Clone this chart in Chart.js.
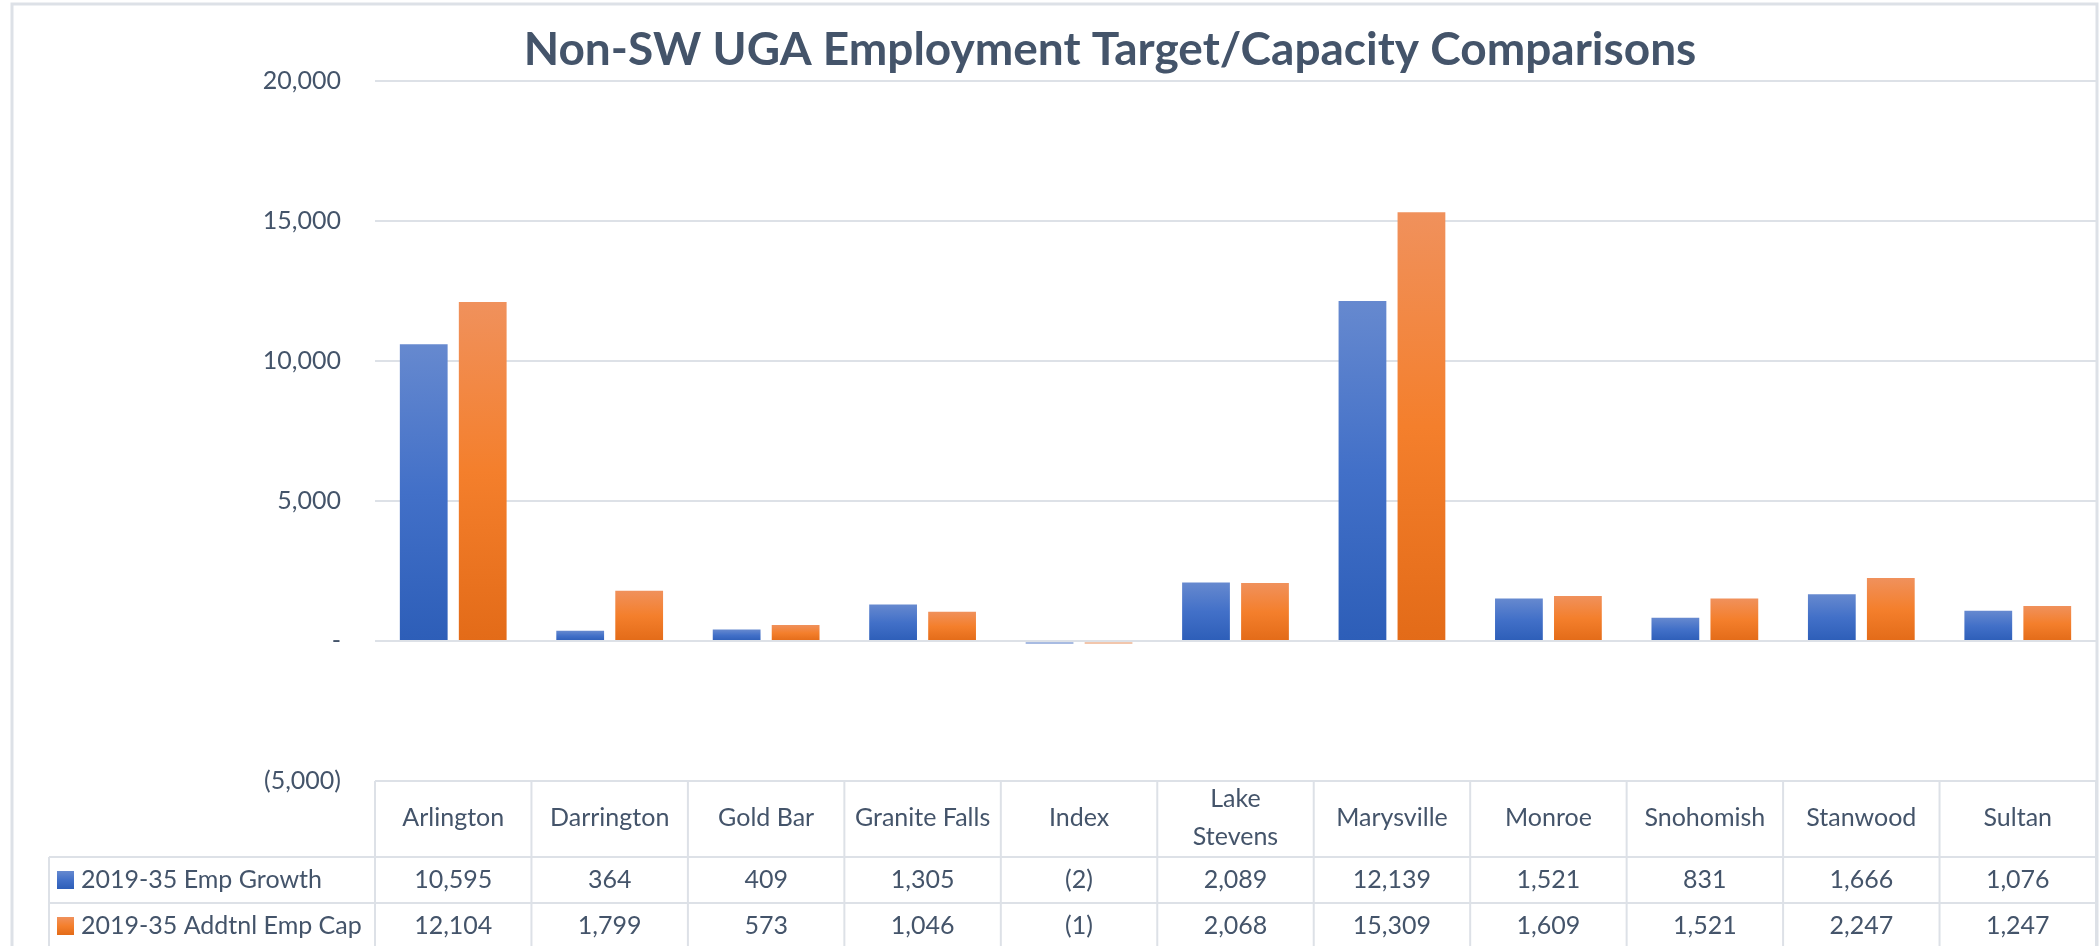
<!DOCTYPE html>
<html>
<head>
<meta charset="utf-8">
<script src="https://cdn.jsdelivr.net/npm/chart.js@4"></script>
<style>
html, body { margin: 0; padding: 0; background: #fff; }
#wrap { position: relative; width: 2100px; height: 946px; }
</style>
</head>
<body>
<div id="wrap"><canvas id="empChart"></canvas></div>
<script>
// categories along the x-axis (Lake Stevens wraps onto two lines)
var cities = ["Arlington","Darrington","Gold Bar","Granite Falls","Index",["Lake","Stevens"],"Marysville","Monroe","Snohomish","Stanwood","Sultan"];
// the two series, also shown in the table under the chart
var empGrowth = [10595,364,409,1305,-2,2089,12139,1521,831,1666,1076];
var addtnlEmpCap = [12104,1799,573,1046,-1,2068,15309,1609,1521,2247,1247];
var seriesNames = ["2019-35 Emp Growth","2019-35 Addtnl Emp Cap"];
var yTicks = [-5000,0,5000,10000,15000,20000];
var titleText = "Non-SW UGA Employment Target/Capacity Comparisons";

var textColor = "#44546A";
var lineColor = "#DDE1E7";
var fontFamily = "Lato, 'Open Sans', sans-serif";
var blueStops = ["#6689CF","#4270C8","#2D5EB8"];
var orangeStops = ["#F0915C","#F47F2C","#E36B18"];

// accounting style numbers: 0 -> "-", negatives in brackets
function fmt(v) {
  if (v === 0) return "-";
  var s = Math.abs(v).toLocaleString("en-US");
  return v < 0 ? "(" + s + ")" : s;
}

// each bar gets its own light-to-dark gradient
function barFill(stops, faint) {
  return function(ctx) {
    var chart = ctx.chart;
    if (!chart.chartArea || ctx.raw == null) return stops[1];
    if (ctx.raw < 0) return faint;
    var y = chart.scales.y;
    var top = y.getPixelForValue(ctx.raw), base = y.getPixelForValue(0);
    if (!isFinite(top) || base - top < 1) return stops[1];
    var g = chart.ctx.createLinearGradient(0, top, 0, base);
    g.addColorStop(0, stops[0]);
    g.addColorStop(0.5, stops[1]);
    g.addColorStop(1, stops[2]);
    return g;
  };
}

// outer frame and title
var framePlugin = {
  id: "frame",
  beforeDraw: function(chart) {
    var c = chart.ctx;
    c.save();
    c.strokeStyle = lineColor;
    c.lineWidth = 3;
    c.beginPath();
    c.moveTo(12, chart.height);
    c.lineTo(12, 4);
    c.lineTo(2097, 4);
    c.lineTo(2097, chart.height);
    c.stroke();
    c.restore();
  },
  afterDraw: function(chart) {
    var c = chart.ctx;
    c.save();
    c.fillStyle = textColor;
    c.font = "bold 46px " + fontFamily;
    c.textAlign = "center";
    c.textBaseline = "middle";
    c.fillText(titleText, 1110, 50);
    c.restore();
  }
};

// data table under the x-axis labels
var tablePlugin = {
  id: "dataTable",
  afterDraw: function(chart) {
    var c = chart.ctx, x = chart.scales.x, area = chart.chartArea;
    var step = x.getPixelForValue(1) - x.getPixelForValue(0);
    var first = x.getPixelForValue(0) - step / 2;
    var rowTops = [857, 903];
    var rowH = 46;
    var tableLeft = 49;
    var bottom = chart.height;
    c.save();
    c.strokeStyle = lineColor;
    c.lineWidth = 2;
    c.beginPath();
    rowTops.forEach(function(t) {
      c.moveTo(tableLeft, t);
      c.lineTo(area.right, t);
    });
    c.moveTo(tableLeft, rowTops[0]);
    c.lineTo(tableLeft, bottom);
    for (var i = 0; i <= cities.length; i++) {
      var xb = first + i * step;
      c.moveTo(xb, area.bottom);
      c.lineTo(xb, bottom);
    }
    c.stroke();

    c.font = "25px " + fontFamily;
    c.textBaseline = "middle";
    var stops = [blueStops, orangeStops];
    chart.data.datasets.forEach(function(ds, r) {
      var mid = rowTops[r] + rowH / 2;
      var g = c.createLinearGradient(0, mid - 9, 0, mid + 9);
      g.addColorStop(0, stops[r][0]);
      g.addColorStop(0.5, stops[r][1]);
      g.addColorStop(1, stops[r][2]);
      c.fillStyle = g;
      c.fillRect(57, mid - 9, 17, 18);
      c.fillStyle = textColor;
      c.textAlign = "left";
      c.fillText(ds.label, 81, mid);
      c.textAlign = "center";
      ds.data.forEach(function(v, i) {
        c.fillText(fmt(v), x.getPixelForValue(i), mid);
      });
    });
    c.restore();
  }
};

new Chart(document.getElementById("empChart"), {
  type: "bar",
  data: {
    labels: cities,
    datasets: [
      {
        label: seriesNames[0],
        data: empGrowth,
        backgroundColor: barFill(blueStops, "#A8BBE2"),
        barPercentage: 0.81,
        categoryPercentage: 0.754,
        minBarLength: 3
      },
      {
        label: seriesNames[1],
        data: addtnlEmpCap,
        backgroundColor: barFill(orangeStops, "#F2C6AC"),
        barPercentage: 0.81,
        categoryPercentage: 0.754,
        minBarLength: 3
      }
    ]
  },
  options: {
    responsive: true,
    maintainAspectRatio: false,
    animation: false,
    layout: { padding: { top: 81, right: 4, left: 0, bottom: 0 } },
    plugins: {
      legend: { display: false },
      title: { display: false },
      tooltip: { enabled: false }
    },
    scales: {
      x: {
        grid: { display: false },
        border: { display: false },
        ticks: {
          color: textColor,
          font: { family: fontFamily, size: 25, lineHeight: 1.5 },
          crossAlign: "center",
          padding: 10,
          maxRotation: 0,
          autoSkip: false
        },
        afterFit: function(s) { s.height = 165; }
      },
      y: {
        min: -5000,
        max: 20000,
        afterBuildTicks: function(s) {
          s.ticks = yTicks.map(function(v) { return { value: v }; });
        },
        grid: { color: lineColor, lineWidth: 2, drawTicks: false },
        border: { display: false },
        ticks: {
          color: textColor,
          font: { family: fontFamily, size: 25 },
          padding: 34,
          callback: function(v) { return fmt(v); }
        },
        afterFit: function(s) { s.width = 375; }
      }
    }
  },
  plugins: [framePlugin, tablePlugin]
});
</script>
</body>
</html>
